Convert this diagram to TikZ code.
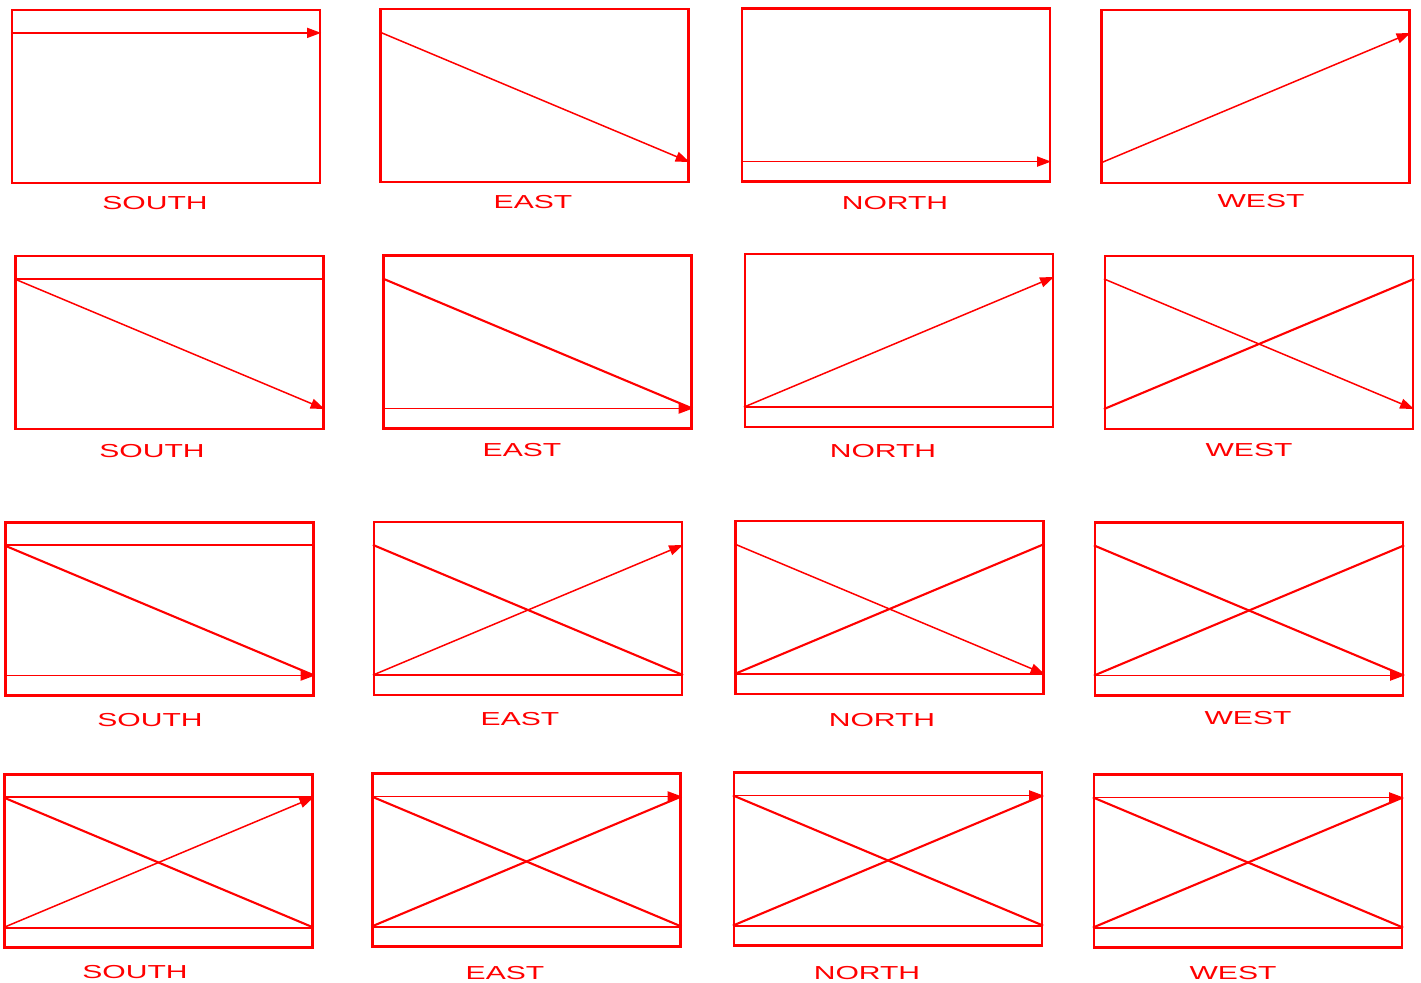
\documentclass[tikz,border=0pt]{standalone}
\usepackage{fontspec}
\newfontfamily\dirfont[FakeStretch=1.6]{Liberation Sans}
\usepackage{tikz}
\usetikzlibrary{arrows.meta}

\begin{document}
\begin{tikzpicture}[
    x=0.5pt, y=-0.5pt,
    box/.style={rectangle, draw=red, line width=1.1pt, minimum width=154pt, minimum height=86.5pt, inner sep=0pt},
    dir/.style={text=red, inner sep=0pt, font=\dirfont\fontsize{9.4}{11}\selectfont},
    trail/.style={draw=red, line width=1.05pt},
    move/.style={draw=red, line width=0.75pt, -{Triangle[length=7pt, width=5pt]}}
]
\useasboundingbox (0,0) rectangle (1421,983);

% Boxes
\node[box] (s1) at (166, 96.5) {};
\node[box] (e1) at (534.5, 95.5) {};
\node[box] (n1) at (896, 95) {};
\node[box] (w1) at (1255.5, 96.5) {};

\node[box] (s2) at (169.5, 342.5) {};
\node[box] (e2) at (537.5, 342) {};
\node[box] (n2) at (899, 340.5) {};
\node[box] (w2) at (1259, 342.5) {};

\node[box] (s3) at (159.5, 609) {};
\node[box] (e3) at (528, 608.5) {};
\node[box] (n3) at (889.5, 607.5) {};
\node[box] (w3) at (1249, 609) {};

\node[box] (s4) at (158.5, 861) {};
\node[box] (e4) at (526.5, 860) {};
\node[box] (n4) at (888, 859) {};
\node[box] (w4) at (1248, 861) {};

% Corner points of the paths
\foreach \b in {s1,e1,n1,w1,s2,e2,n2,w2,s3,e3,n3,w3,s4,e4,n4,w4} {
    \coordinate (\b-tl) at ([yshift=-12pt]\b.north west);
    \coordinate (\b-tr) at ([yshift=-12pt]\b.north east);
    \coordinate (\b-bl) at ([yshift=10.5pt]\b.south west);
    \coordinate (\b-br) at ([yshift=10.5pt]\b.south east);
}

% Labels
\node[dir] (ls1) at (155, 203) {SOUTH};
\node[dir] (le1) at (533, 202) {EAST};
\node[dir] (ln1) at (895, 203) {NORTH};
\node[dir] (lw1) at (1261, 201) {WEST};

\node[dir] (ls2) at (152, 451) {SOUTH};
\node[dir] (le2) at (522, 450) {EAST};
\node[dir] (ln2) at (883, 451) {NORTH};
\node[dir] (lw2) at (1249, 450) {WEST};

\node[dir] (ls3) at (150, 720) {SOUTH};
\node[dir] (le3) at (520, 719) {EAST};
\node[dir] (ln3) at (882, 720) {NORTH};
\node[dir] (lw3) at (1248, 718) {WEST};

\node[dir] (ls4) at (135, 972) {SOUTH};
\node[dir] (le4) at (505, 973) {EAST};
\node[dir] (ln4) at (867, 973) {NORTH};
\node[dir] (lw4) at (1233, 973) {WEST};

% Row 1
\draw[move] (s1-tl) -- (s1-tr);
\draw[move] (e1-tl) -- (e1-br);
\draw[move] (n1-bl) -- (n1-br);
\draw[move] (w1-bl) -- (w1-tr);

% Row 2
\draw[trail] (s2-tl) -- (s2-tr);
\draw[move] (s2-tl) -- (s2-br);
\draw[trail] (e2-tl) -- (e2-br);
\draw[move] (e2-bl) -- (e2-br);
\draw[trail] (n2-bl) -- (n2-br);
\draw[move] (n2-bl) -- (n2-tr);
\draw[trail] (w2-bl) -- (w2-tr);
\draw[move] (w2-tl) -- (w2-br);

% Row 3
\draw[trail] (s3-tl) -- (s3-tr);
\draw[trail] (s3-tl) -- (s3-br);
\draw[move] (s3-bl) -- (s3-br);
\draw[trail] (e3-tl) -- (e3-br);
\draw[trail] (e3-bl) -- (e3-br);
\draw[move] (e3-bl) -- (e3-tr);
\draw[trail] (n3-bl) -- (n3-br);
\draw[trail] (n3-bl) -- (n3-tr);
\draw[move] (n3-tl) -- (n3-br);
\draw[trail] (w3-bl) -- (w3-tr);
\draw[trail] (w3-tl) -- (w3-br);
\draw[move] (w3-bl) -- (w3-br);

% Row 4
\draw[trail] (s4-tl) -- (s4-tr);
\draw[trail] (s4-tl) -- (s4-br);
\draw[trail] (s4-bl) -- (s4-br);
\draw[move] (s4-bl) -- (s4-tr);
\draw[trail] (e4-tl) -- (e4-br);
\draw[trail] (e4-bl) -- (e4-br);
\draw[trail] (e4-bl) -- (e4-tr);
\draw[move] (e4-tl) -- (e4-tr);
\draw[trail] (n4-bl) -- (n4-br);
\draw[trail] (n4-bl) -- (n4-tr);
\draw[trail] (n4-tl) -- (n4-br);
\draw[move] (n4-tl) -- (n4-tr);
\draw[trail] (w4-bl) -- (w4-tr);
\draw[trail] (w4-tl) -- (w4-br);
\draw[trail] (w4-bl) -- (w4-br);
\draw[move] (w4-tl) -- (w4-tr);

\end{tikzpicture}
\end{document}
